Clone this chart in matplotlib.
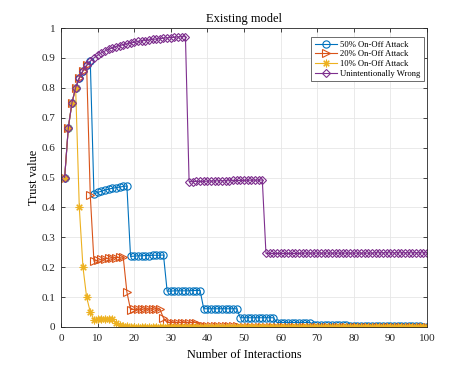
import matplotlib
matplotlib.use("Agg")
import matplotlib.pyplot as plt
import numpy as np

plt.rcParams['font.family'] = ['Liberation Serif', 'DejaVu Serif']
plt.rcParams['mathtext.fontset'] = 'stix'

interactions = list(range(1, 101))

rise = [0.5, 0.667, 0.75, 0.8, 0.833, 0.857, 0.875, 0.889, 0.9, 0.909,
        0.917, 0.923, 0.929, 0.933, 0.938, 0.941, 0.944, 0.947, 0.95, 0.952,
        0.955, 0.957, 0.958, 0.96, 0.962, 0.963, 0.964, 0.966, 0.967, 0.968,
        0.969, 0.97, 0.971, 0.971]

on_off_50 = rise[:8] + [
    0.445, 0.450, 0.454, 0.458, 0.461, 0.464, 0.466, 0.468, 0.470, 0.472,
    0.236, 0.237, 0.238, 0.238, 0.239, 0.239, 0.240, 0.240, 0.240, 0.241,
    0.120, 0.120, 0.121, 0.121, 0.121, 0.121, 0.121, 0.122, 0.122, 0.122,
    0.061, 0.061, 0.061, 0.061, 0.061, 0.061, 0.061, 0.061, 0.061, 0.061,
    0.031, 0.031, 0.031, 0.031, 0.031, 0.031, 0.031, 0.031, 0.031, 0.031,
    0.015, 0.015, 0.015, 0.015, 0.015, 0.015, 0.015, 0.015, 0.015, 0.015,
    0.008, 0.008, 0.008, 0.008, 0.008, 0.008, 0.008, 0.008, 0.008, 0.008,
    0.004, 0.004, 0.004, 0.004, 0.004, 0.004, 0.004, 0.004, 0.004, 0.004,
    0.002, 0.002, 0.002, 0.002, 0.002, 0.002, 0.002, 0.002, 0.002, 0.002,
    0.001, 0.001]

on_off_20 = rise[:7] + [
    0.440,
    0.220, 0.223, 0.226, 0.228, 0.230, 0.231, 0.232, 0.233, 0.234, 0.117,
    0.058, 0.059, 0.059, 0.059, 0.060, 0.060, 0.060, 0.060, 0.060, 0.030,
    0.015, 0.015, 0.015, 0.015, 0.015, 0.015, 0.015, 0.015, 0.015, 0.0075,
    0.004, 0.004, 0.004, 0.004, 0.004, 0.004, 0.004, 0.004, 0.004, 0.002,
    0.001, 0.001, 0.001, 0.001, 0.001, 0.001, 0.001, 0.001, 0.001, 0.0005,
    0.0003, 0.0003, 0.0003, 0.0003, 0.0003, 0.0003, 0.0003, 0.0003, 0.0003, 0.0002,
    0.0001, 0.0001, 0.0001, 0.0001, 0.0001, 0.0001, 0.0001, 0.0001, 0.0001, 0.0001,
    0.0001, 0.0001, 0.0001, 0.0001, 0.0001, 0.0001, 0.0001, 0.0001, 0.0001, 0.0001,
    0.0001, 0.0001, 0.0001, 0.0001, 0.0001, 0.0001, 0.0001, 0.0001, 0.0001, 0.0001,
    0.0001, 0.0001]

on_off_10 = rise[:4] + [
    0.40, 0.20, 0.10, 0.05, 0.025, 0.026,
    0.027, 0.027, 0.028, 0.028, 0.014, 0.007, 0.0035, 0.0018, 0.0009, 0.0009,
    0.0009, 0.0009, 0.0009, 0.0009, 0.0005, 0.0005, 0.0005, 0.0005, 0.0005, 0.0005,
    0.0005, 0.0005, 0.0005, 0.0005, 0.0003, 0.0003, 0.0003, 0.0003, 0.0003, 0.0003,
    0.0003, 0.0003, 0.0003, 0.0003, 0.0002, 0.0002, 0.0002, 0.0002, 0.0002, 0.0002,
    0.0002, 0.0002, 0.0002, 0.0002, 0.0001, 0.0001, 0.0001, 0.0001, 0.0001, 0.0001,
    0.0001, 0.0001, 0.0001, 0.0001, 0.0001, 0.0001, 0.0001, 0.0001, 0.0001, 0.0001,
    0.0001, 0.0001, 0.0001, 0.0001, 0.0001, 0.0001, 0.0001, 0.0001, 0.0001, 0.0001,
    0.0001, 0.0001, 0.0001, 0.0001, 0.0001, 0.0001, 0.0001, 0.0001, 0.0001, 0.0001,
    0.0001, 0.0001, 0.0001, 0.0001, 0.0001, 0.0001, 0.0001, 0.0001, 0.0001, 0.0001]

unintentional = rise + [
    0.486, 0.486, 0.487, 0.487, 0.487, 0.488, 0.488, 0.488, 0.489, 0.489,
    0.489, 0.489, 0.490, 0.490, 0.490, 0.490, 0.491, 0.491, 0.491, 0.491,
    0.492,
    0.246, 0.246, 0.246, 0.246, 0.246, 0.246, 0.246, 0.246, 0.246, 0.246,
    0.247, 0.247, 0.247, 0.247, 0.247, 0.247, 0.247, 0.247, 0.247, 0.247,
    0.247, 0.247, 0.247, 0.247, 0.247, 0.247, 0.247, 0.247, 0.247, 0.247,
    0.248, 0.248, 0.248, 0.248, 0.248, 0.248, 0.248, 0.248, 0.248, 0.248,
    0.248, 0.248, 0.248, 0.248, 0.248]

series_names = ['50% On-Off Attack', '20% On-Off Attack', '10% On-Off Attack',
                'Unintentionally Wrong']
x_ticks = list(range(0, 101, 10))
y_ticks = [0, 0.1, 0.2, 0.3, 0.4, 0.5, 0.6, 0.7, 0.8, 0.9, 1]
y_tick_labels = ['0', '0.1', '0.2', '0.3', '0.4', '0.5', '0.6', '0.7', '0.8', '0.9', '1']

fig = plt.figure(figsize=(4.71, 3.68), dpi=100)
ax = fig.add_axes([61 / 471, 41 / 368, 366 / 471, 299 / 368])

colors = ['#0072BD', '#D95319', '#EDB120', '#7E2F8E']
markers = ['o', '>', (8, 2, 0), 'D']
sizes = [5.2, 5.2, 5.5, 4.4]
data = [on_off_50, on_off_20, on_off_10, unintentional]

for vals, name, c, m, ms in zip(data, series_names, colors, markers, sizes):
    ax.plot(interactions, vals, color=c, marker=m, markersize=ms,
            markerfacecolor='none', markeredgecolor=c, markeredgewidth=0.8,
            linewidth=0.8, label=name)

ax.set_xlim(0, 100)
ax.set_ylim(0, 1)
ax.set_xticks(x_ticks)
ax.set_yticks(y_ticks)
ax.set_yticklabels(y_tick_labels)
ax.tick_params(direction='in', top=True, right=True, labelsize=8, length=3,
               width=0.6, colors='#262626')
ax.tick_params(axis='x', pad=5)
ax.tick_params(axis='y', pad=4)
for s in ax.spines.values():
    s.set_color('#262626')
    s.set_linewidth(0.6)
ax.grid(True, color='#e6e6e6', linewidth=0.6)
ax.set_axisbelow(True)

ax.set_xlabel('Number of Interactions', fontsize=8.8, labelpad=4)
ax.set_ylabel('Trust value', fontsize=8.8, labelpad=1)
ax.set_title('Existing model', fontsize=9, pad=4)

leg = ax.legend(loc='upper right', fontsize=6.2, frameon=True, fancybox=False,
                edgecolor='#555555', framealpha=1, handlelength=2.6,
                borderpad=0.45, labelspacing=0.18, handletextpad=0.3,
                borderaxespad=0, bbox_to_anchor=(0.992, 0.97))
leg.get_frame().set_linewidth(0.6)

fig.savefig('out.png', dpi=100)
